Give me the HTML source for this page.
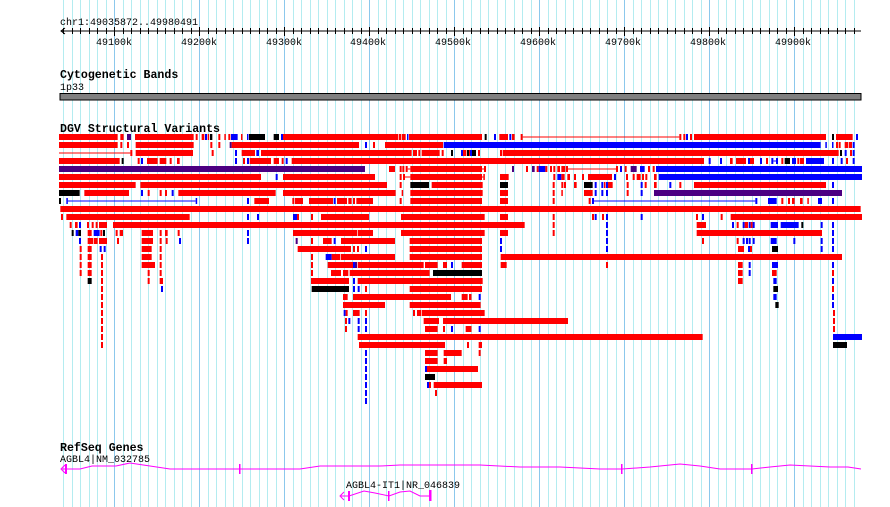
<!DOCTYPE html>
<html><head><meta charset="utf-8"><style>
html,body{margin:0;padding:0;background:#fff;}
svg{display:block;}
text{font-family:"Liberation Mono","DejaVu Sans Mono",monospace;}
</style></head><body>
<svg id="s" width="890" height="507" xmlns="http://www.w3.org/2000/svg">
<g id="grid"></g>
<text x="60" y="25" font-size="10" fill="#000">chr1:49035872..49980491</text>
<line x1="61" y1="31" x2="861" y2="31" stroke="#000"/>
<polyline points="65,28 61,31 65,34" fill="none" stroke="#000"/>
<g id="ticks"></g>
<text x="96" y="45" font-size="10">49100k</text>
<text x="181" y="45" font-size="10">49200k</text>
<text x="266" y="45" font-size="10">49300k</text>
<text x="350" y="45" font-size="10">49400k</text>
<text x="435" y="45" font-size="10">49500k</text>
<text x="520" y="45" font-size="10">49600k</text>
<text x="605" y="45" font-size="10">49700k</text>
<text x="690" y="45" font-size="10">49800k</text>
<text x="775" y="45" font-size="10">49900k</text>
<text x="60" y="78" font-size="11.6" font-weight="bold">Cytogenetic Bands</text>
<text x="60" y="90" font-size="10">1p33</text>
<rect x="60" y="93.5" width="801" height="6.5" fill="#808080" stroke="#000" stroke-width="1"/>
<text x="60" y="132" font-size="11.6" font-weight="bold">DGV Structural Variants</text>
<g id="dgv"></g>
<text x="60" y="451" font-size="11.6" font-weight="bold">RefSeq Genes</text>
<text x="60" y="462" font-size="10">AGBL4|NM_032785</text>
<polyline points="62,469 80,469 92,466 116,466 130,463 150,466 170,469 198,469 239,469 260,469 300,469 320,466 380,466 400,465 450,465 480,465 520,467 560,467 600,469 622,469 650,467 680,464 700,466 720,469 752,469 770,467 790,465 810,466 830,467 848,467 861,469" fill="none" stroke="#ff00ff" stroke-width="1"/>
<polyline points="65,465 61,469 65,473" fill="none" stroke="#ff00ff"/>
<rect x="65" y="464" width="2" height="10" fill="#ff00ff"/>
<rect x="239" y="464" width="1.5" height="10" fill="#ff00ff"/>
<rect x="621" y="464" width="1.5" height="10" fill="#ff00ff"/>
<rect x="751" y="464" width="1.5" height="10" fill="#ff00ff"/>
<text x="346" y="488" font-size="10">AGBL4-IT1|NR_046839</text>
<polyline points="341,496 349,496 364,491 375,493 389,496 400,492 410,491 420,496 430,496" fill="none" stroke="#ff00ff"/>
<polyline points="344,492 340,496 344,500" fill="none" stroke="#ff00ff"/>
<rect x="348" y="491" width="2" height="10" fill="#ff00ff"/>
<rect x="388" y="491" width="1.5" height="10" fill="#ff00ff"/>
<rect x="429" y="490" width="2.5" height="11" fill="#ff00ff"/>
</svg>
<script>
var NS="http://www.w3.org/2000/svg";
function el(p,t,a){var e=document.createElementNS(NS,t);for(var k in a)e.setAttribute(k,a[k]);p.appendChild(e);return e;}
var g=document.getElementById('grid');
for(var i=-6;i<=88;i++){var x=114.3+i*8.5;if(x<59||x>862)continue;x=Math.round(x)+0.5;
 el(g,'line',{x1:x,y1:0,x2:x,y2:507,stroke:(i%10==0)?'#8cc8ec':'#b4ecf0','stroke-width':1});}
var t=document.getElementById('ticks');
for(var i=-6;i<=88;i++){var x=114.3+i*8.5;if(x<62||x>862)continue;x=Math.round(x)+0.5;
 el(t,'line',{x1:x,y1:(i%10==0)?27:28,x2:x,y2:(i%10==0)?36:34,stroke:'#000'});}
var C={r:'#ff0000',b:'#0000ff',k:'#000000',p:'#4b0082'};
var L=[
"12-188r,196-206r,216-228p,240-416r,422-428r,440-448r,450-456b,458-462r,465-472k,490-496r,508-512r,520-526r,528-548b,558-562r,576-580b,582-630k,656-672k,678-684b,684-1030r,1032-1038r,1040-1052r,1056-1060b,1062-1260r",
"12-188r,196-202r,216-222r,242-416r,466-472r,490-496r,524-530p,530-912r,930-936b,954-960r,990-1164r,1166-1260b",
"12-226Lr,226-232r,242-414r,470-476r,540-546b,560-600r,604-612b,618-1070r,1074-1086r,1090-1096r,1100-1154r,1160-1166r,1188-1194k,1218-1224b,1224-1234r,1236-1242k,1242-1250r,1250-1258b",
"12-194r,200-206k,248-254r,258-264b,276-308r,314-334r,344-350r,366-374r,540-546b,564-570r,576-582b,584-648r,656-672r,680-686r,692-698b,710-1260r",
"12-930p,1002-1020r,1034-1040r,1042-1048r,1052-1058r,1058-1066Lr,1066-1260r",
"12-618r,662-668b,684-960r,1034-1040r,1044-1050r,1050-1066Lr,1066-1260r",
"12-242r,256-996r,1034-1040r,1066-1122k,1130-1260r",
"12-74k,88-222r,258-264b,278-284r,314-320r,330-336r,350-356b,370-662r,684-1022r,1040-1044r,1066-1260r",
"12-18k,34-38b,38-422Lb,422-426b,576-582b,598-642r,712-718r,720-744r,762-834r,836-842b,846-876r,880-890r,894-900r,904-954r,1034-1040r,1066-1260r",
"16-1260r",
"18-24r,34-404r,576-582b,606-612b,714-726b,726-732r,768-774r,798-942r,1038-1260r",
"44-50r,60-68r,72-78b,96-102r,110-116r,122-128r,132-156r,174-1260r",
"50-56k,62-70b,70-78k,98-110r,116-134b,136-142r,144-150k,182-188r,194-204r,260-294r,314-320r,330-338r,368-374r,576-582b,714-906r,908-954r,1038-1260r",
"72-78b,98-114r,116-128r,132-156r,186-192r,260-294r,314-320r,332-338r,372-378b,576-582b,722-728p,768-774r,804-830r,836-842b,858-1020r,1064-1260r",
"74-80r,98-110r,134-140b,146-152b,260-290r,314-320r,728-888r,894-900r,906-912r,930-936b,1064-1260r",
"74-80r,98-110r,138-144r,260-290r,314-320r,768-774r,812-830b,830-856r,858-1020r,1064-1260r",
"74-80r,98-110r,138-144r,260-300r,314-320r,768-774r,818-894r,894-900b,900-906p,908-1106r,1110-1148r,1164-1176r,1188-1194b,1220-1260r",
"74-80r,98-110r,138-144r,278-284r,314-320r,768-774r,828-858r,864-880r,884-1124r,1134-1260k",
"98-110k,138-144r,278-284r,314-324r,768-882r,894-900b,908-1260r",
"138-144r,318-324b,770-882k,894-900b,908-914b,930-936r,1064-1260r",
"138-144r,864-878r,894-1188r,1220-1238r,1242-1248r",
"138-144r,864-990r,1064-1260r",
"138-144r,866-872b,872-878r,894-914r,930-936r,1074-1080r,1086-1098r,1100-1260r",
"138-144r,870-876r,880-886b,908-914b,930-936b,1106-1152r,1164-1260r",
"138-144r,870-876r,908-914b,930-936b,1110-1148r,1164-1170r,1188-1194b,1232-1248r",
"138-144r,908-1260r",
"138-144r,912-1170r,1236-1242r",
"930-936b,1110-1148r,1166-1220r",
"930-936b,1110-1148r,1166-1176r",
"930-936b,1110-1116b,1116-1260r",
"930-936b,1110-1140k",
"930-936b,1116-1122b,1122-1128r,1136-1260r",
"930-936b,1140-1146r",
"930-936b"];
var R=[
"0-36r,44-50k,72-78b,88-114r,118-124b,126-134r,152-158r,158-628Lr,628-634r,640-646r,648-654b,660-666r,672-1068r,1086-1092k,1098-1148r,1158-1164b",
"0-1052b,1066-1070b,1086-1090b,1098-1104r,1106-1112r,1124-1134r,1136-1146r,1148-1154b",
"0-6b,6-18k,24-30r,90-96r,98-1106r,1110-1116k,1124-1130b,1140-1146r,1148-1154b",
"0-702r,716-722b,750-756b,780-788r,798-828r,834-840b,840-852r,870-876b,888-894r,904-910b,910-918Lb,918-924b,934-940r,944-960k,966-978b,982-988r,990-1002r,1008-1062b,1086-1092b,1112-1118b,1128-1134r,1148-1154b",
"0-36r,36-44Lr,42-48r,126-132p,168-174r,186-194p,200-206r,206-226b,226-232r,240-246r,250-256r,262-270r,274-286r,288-294r,294-440Lr,438-444r,450-456b,464-470r,482-500p,510-524b,534-540r,548-554r,558-1176b",
"0-36r,36-40Lr,40-44r,90-116r,250-256r,262-274b,274-284r,292-300r,312-318r,336-342r,354-426r,432-438b,468-474r,488-494r,500-512r,516-522r,526-532r,552-560r,566-1176b",
"0-38r,90-114k,248-254r,274-280r,282-288r,312-320r,342-368k,374-380b,394-400b,402-406r,408-414b,414-428r,470-476r,512-518b,524-530r,552-560r,598-604b,628-634r,672-1068r,1086-1092b",
"0-38r,90-114r,248-254r,274-278r,342-368r,374-380b,394-400b,408-414b,470-476r,512-518b,552-1116p",
"0-36r,90-114r,248-254r,356-362r,366-372b,372-856Lb,856-862b,894-920b,934-940r,954-960r,966-974r,990-998r,1012-1016r,1044-1056b,1086-1092b",
"0-1172r",
"0-44r,90-114r,248-254r,366-372r,374-380b,396-402r,408-414b,512-518b,678-684r,696-702b,752-758r,782-1176r",
"0-164r,248-254r,408-414b,680-708r,786-792b,800-806r,818-824b,824-834r,836-842b,842-848r,848-854b,902-924b,932-986b,994-1000k,1052-1058b,1086-1092b",
"0-44r,90-114r,248-254r,408-414b,680-1056r,1086-1092b",
"0-36r,90-96b,408-414b,696-702r,800-806r,818-824b,828-834b,836-842b,848-854b,902-920b,970-976b,1052-1058b,1086-1092b",
"0-36r,90-96b,408-414b,804-822r,834-840b,840-846r,906-924k,1052-1058b,1086-1092b",
"0-36r,92-1116r",
"0-36r,92-110r,408-414r,804-818r,836-842b,906-924b,1086-1092b",
"0-36k,804-818r,836-842b,906-920r,1086-1092r",
"0-38r,804-818r,910-920b,1086-1092b",
"0-36r,910-924k,1086-1092r",
"0-3r,26-32b,910-920b,1086-1092b",
"0-32r,916-926k,1086-1092b",
"0-44r,1089-1095r",
"0-294r,1089-1095r",
"0-3r,26-32b,1089-1095r",
"0-698r,1089-1176b",
"26-36r,1089-1131k",
"26-32r","","0-24r","","0-36r","",""];
var d=document.getElementById('dgv');
function draw(rows,off){for(var i=0;i<rows.length;i++){if(!rows[i])continue;var y=134+8*i;
 rows[i].split(',').forEach(function(s){var m=s.match(/^(\d+)-(\d+)(L?)([rbkp])$/);if(!m)return;
  var x1=off+(+m[1])/3,x2=off+(+m[2])/3,c=C[m[4]];
  if(m[3])el(d,'rect',{x:x1,y:y+2.5,width:Math.max(x2-x1,1),height:1,fill:c});
  else el(d,'rect',{x:x1,y:y,width:Math.max(x2-x1,1.5),height:6,fill:c});});}}
draw(L,55);draw(R,470);
</script>
</body></html>
